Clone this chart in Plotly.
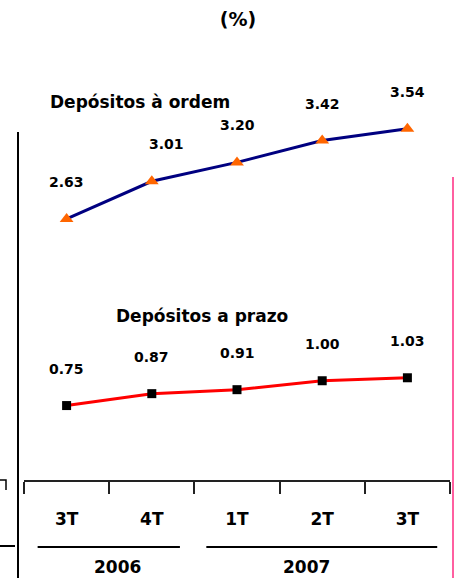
import plotly.graph_objects as go

# data
quarters = ["3T", "4T", "1T", "2T", "3T"]
years = ["2006", "2007"]
ordem = [2.63, 3.01, 3.20, 3.42, 3.54]
prazo = [0.75, 0.87, 0.91, 1.00, 1.03]

x = list(range(len(quarters)))

W, H = 455, 578
L, R, T = 24, 5, 83
B = H - 480
FONT = "DejaVu Sans"


def px(xp):
    """screen pixel x -> paper x"""
    return (xp - L) / (W - L - R)


def py(yp):
    """screen pixel y -> paper y"""
    return (H - B - yp) / (H - T - B)


fig = go.Figure()

fig.add_trace(go.Scatter(
    x=x, y=ordem, mode="lines+markers", name="Depósitos à ordem",
    line=dict(color="#000080", width=3),
    marker=dict(symbol="triangle-up", size=12, color="#FF6600"),
))
fig.add_trace(go.Scatter(
    x=x, y=prazo, mode="lines+markers", name="Depósitos a prazo",
    line=dict(color="#FF0000", width=3),
    marker=dict(symbol="square", size=9, color="#000000"),
))

annotations = []

# value labels
label_font = dict(family=FONT, size=14, color="black", weight="bold")
ordem_xshift = [0, 15, 0, 0, 0]
for i, v in enumerate(ordem):
    annotations.append(dict(x=x[i], y=v, text=f"{v:.2f}", showarrow=False,
                            xanchor="center", yanchor="middle",
                            yshift=37, xshift=ordem_xshift[i], font=label_font))
for i, v in enumerate(prazo):
    annotations.append(dict(x=x[i], y=v, text=f"{v:.2f}", showarrow=False,
                            xanchor="center", yanchor="middle",
                            yshift=37, font=label_font))

# series names
series_font = dict(family=FONT, size=17, color="black", weight="bold")
annotations.append(dict(x=px(140), y=py(102), xref="paper", yref="paper",
                        xanchor="center", yanchor="middle",
                        text="Depósitos à ordem", showarrow=False, font=series_font))
annotations.append(dict(x=px(202), y=py(316), xref="paper", yref="paper",
                        xanchor="center", yanchor="middle",
                        text="Depósitos a prazo", showarrow=False, font=series_font))

# year labels
year_font = dict(family=FONT, size=17, color="black", weight="bold")
annotations.append(dict(x=0.6, y=py(567), xref="x", yref="paper", text=years[0],
                        xanchor="center", yanchor="middle",
                        showarrow=False, font=year_font))
annotations.append(dict(x=2.81, y=py(567), xref="x", yref="paper", text=years[1],
                        xanchor="center", yanchor="middle",
                        showarrow=False, font=year_font))

shapes = [
    # year underlines
    dict(type="line", xref="x", yref="paper", x0=-0.34, x1=1.33, y0=py(547), y1=py(547),
         line=dict(color="black", width=2)),
    dict(type="line", xref="x", yref="paper", x0=1.64, x1=4.35, y0=py(547), y1=py(547),
         line=dict(color="black", width=2)),
    # left frame line
    dict(type="line", xref="paper", yref="paper", x0=px(18), x1=px(18), y0=py(132), y1=py(578),
         line=dict(color="black", width=2)),
    # pink right line
    dict(type="line", xref="paper", yref="paper", x0=px(453), x1=px(453), y0=py(177), y1=py(578),
         line=dict(color="#FF5FA0", width=2)),
    # bits of the neighbouring chart
    dict(type="path", xref="paper", yref="paper",
         path=f"M {px(0)},{py(480)} L {px(6)},{py(480)} L {px(6)},{py(490)}",
         line=dict(color="black", width=1.5)),
    dict(type="line", xref="paper", yref="paper", x0=px(0), x1=px(15), y0=py(546), y1=py(546),
         line=dict(color="black", width=2)),
]

fig.update_layout(
    width=W, height=H,
    margin=dict(l=L, r=R, t=T, b=B),
    paper_bgcolor="white", plot_bgcolor="white",
    showlegend=False,
    title=dict(text="(%)", x=px(238), xref="paper", xanchor="center",
               y=1 - 19 / H, yref="container", yanchor="middle",
               font=dict(family=FONT, size=19, color="black", weight="bold")),
    annotations=annotations,
    shapes=shapes,
)

fig.update_xaxes(
    range=[-0.5, 4.5],
    tickvals=x, ticktext=quarters, ticks="",
    tickfont=dict(family=FONT, size=17, color="black", weight="bold"),
    ticklabelstandoff=23,
    showline=True, linecolor="#222222", linewidth=1.5,
    showgrid=False, zeroline=False,
    minor=dict(tickvals=[i - 0.5 for i in range(len(quarters) + 1)],
               ticks="outside", ticklen=12, tickcolor="#222222", tickwidth=1.5),
)
fig.update_yaxes(range=[0, 4], visible=False, showgrid=False, zeroline=False)

# the page would otherwise add a default 8px body margin around the figure
fig.write_html("out.html",
               config={"displayModeBar": False},
               post_script="document.body.style.margin='0';"
                           "document.body.style.overflow='hidden';")
